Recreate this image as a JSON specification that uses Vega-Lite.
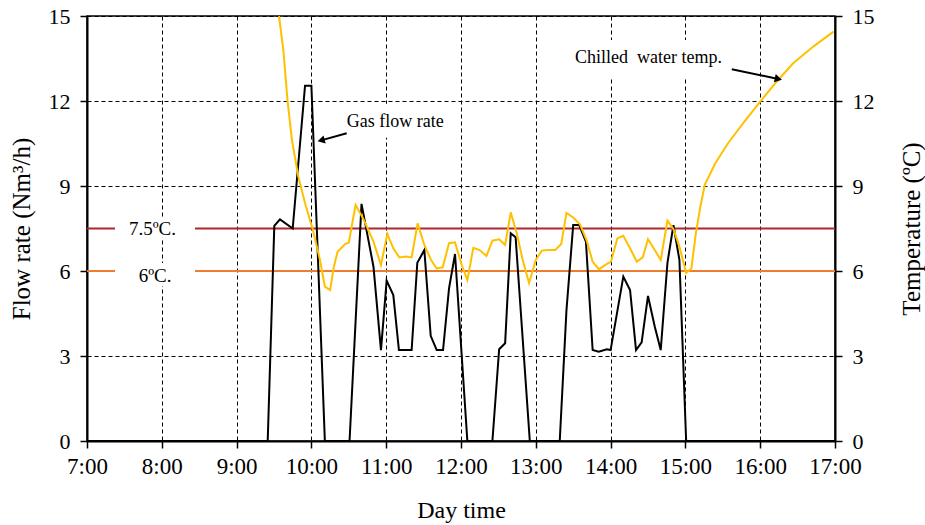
{
  "$schema": "https://vega.github.io/schema/vega-lite/v6.json",
  "width": 748,
  "height": 425,
  "autosize": {"type": "none"},
  "padding": {"left": 87, "top": 16, "right": 90, "bottom": 84},
  "background": "white",
  "config": {
    "view": {"stroke": "black", "strokeWidth": 1.5},
    "axis": {
      "labelFont": "Liberation Serif", "titleFont": "Liberation Serif",
      "labelColor": "black", "titleColor": "black",
      "labelFontSize": 22, "titleFontSize": 24, "titleFontWeight": "normal",
      "domainColor": "black", "domainWidth": 2,
      "tickColor": "black", "tickWidth": 1.5, "tickSize": 7,
      "gridColor": "black", "gridDash": [4, 3], "gridWidth": 1, "gridOpacity": 1,
      "labelOverlap": false, "labelFlush": false
    },
    "text": {"font": "Liberation Serif"}
  },
  "datasets": {
    "gas": [
      {"t": 7.0, "v": 0}, {"t": 9.416, "v": 0}, {"t": 9.504, "v": 7.59}, {"t": 9.58, "v": 7.82}, {"t": 9.75, "v": 7.5},
      {"t": 9.915, "v": 12.54}, {"t": 10.0, "v": 12.54}, {"t": 10.18, "v": 0}, {"t": 10.51, "v": 0}, {"t": 10.67, "v": 8.37},
      {"t": 10.83, "v": 6.15}, {"t": 10.93, "v": 3.21}, {"t": 11.006, "v": 5.66}, {"t": 11.095, "v": 5.15}, {"t": 11.17, "v": 3.21},
      {"t": 11.34, "v": 3.21}, {"t": 11.416, "v": 6.29}, {"t": 11.51, "v": 6.74}, {"t": 11.595, "v": 3.71}, {"t": 11.675, "v": 3.21},
      {"t": 11.76, "v": 3.21}, {"t": 11.84, "v": 5.39}, {"t": 11.92, "v": 6.6}, {"t": 12.085, "v": 0}, {"t": 12.42, "v": 0},
      {"t": 12.51, "v": 3.24}, {"t": 12.59, "v": 3.45}, {"t": 12.665, "v": 7.33}, {"t": 12.73, "v": 7.19}, {"t": 12.92, "v": 0},
      {"t": 13.32, "v": 0}, {"t": 13.41, "v": 4.62}, {"t": 13.5, "v": 7.62}, {"t": 13.58, "v": 7.62}, {"t": 13.67, "v": 7.04},
      {"t": 13.76, "v": 3.21}, {"t": 13.84, "v": 3.15}, {"t": 13.95, "v": 3.24}, {"t": 14.0, "v": 3.21}, {"t": 14.17, "v": 5.8},
      {"t": 14.26, "v": 5.33}, {"t": 14.34, "v": 3.21}, {"t": 14.415, "v": 3.48}, {"t": 14.5, "v": 5.12}, {"t": 14.59, "v": 4.04},
      {"t": 14.67, "v": 3.21}, {"t": 14.76, "v": 6.29}, {"t": 14.84, "v": 7.62}, {"t": 14.92, "v": 6.39}, {"t": 15.01, "v": 0},
      {"t": 17.0, "v": 0}
    ],
    "temp": [
      {"t": 9.567, "v": 15}, {"t": 9.625, "v": 13.8}, {"t": 9.68, "v": 12.04}, {"t": 9.74, "v": 10.62}, {"t": 9.825, "v": 9.33},
      {"t": 9.915, "v": 8.39}, {"t": 10.02, "v": 7.45}, {"t": 10.115, "v": 6.39}, {"t": 10.18, "v": 5.45}, {"t": 10.25, "v": 5.33},
      {"t": 10.3, "v": 6.15}, {"t": 10.35, "v": 6.68}, {"t": 10.45, "v": 6.95}, {"t": 10.5, "v": 7.0}, {"t": 10.59, "v": 8.33},
      {"t": 10.69, "v": 7.86}, {"t": 10.83, "v": 7.04}, {"t": 10.93, "v": 6.21}, {"t": 11.015, "v": 7.31}, {"t": 11.095, "v": 6.8},
      {"t": 11.175, "v": 6.48}, {"t": 11.265, "v": 6.51}, {"t": 11.34, "v": 6.48}, {"t": 11.42, "v": 7.68}, {"t": 11.51, "v": 6.92},
      {"t": 11.6, "v": 6.39}, {"t": 11.675, "v": 6.09}, {"t": 11.755, "v": 6.13}, {"t": 11.84, "v": 6.98}, {"t": 11.92, "v": 7.01},
      {"t": 12.01, "v": 6.21}, {"t": 12.085, "v": 5.68}, {"t": 12.165, "v": 6.82}, {"t": 12.25, "v": 6.74}, {"t": 12.34, "v": 6.53},
      {"t": 12.42, "v": 7.07}, {"t": 12.51, "v": 7.12}, {"t": 12.59, "v": 6.92}, {"t": 12.665, "v": 8.07}, {"t": 12.745, "v": 7.33},
      {"t": 12.825, "v": 6.39}, {"t": 12.91, "v": 5.57}, {"t": 13.0, "v": 6.39}, {"t": 13.08, "v": 6.72}, {"t": 13.17, "v": 6.74},
      {"t": 13.26, "v": 6.74}, {"t": 13.34, "v": 6.95}, {"t": 13.41, "v": 8.05}, {"t": 13.5, "v": 7.89}, {"t": 13.59, "v": 7.65},
      {"t": 13.68, "v": 7.07}, {"t": 13.76, "v": 6.33}, {"t": 13.845, "v": 6.06}, {"t": 13.92, "v": 6.2}, {"t": 14.005, "v": 6.33},
      {"t": 14.09, "v": 7.15}, {"t": 14.17, "v": 7.24}, {"t": 14.26, "v": 6.8}, {"t": 14.35, "v": 6.33}, {"t": 14.43, "v": 6.48},
      {"t": 14.5, "v": 7.12}, {"t": 14.59, "v": 6.74}, {"t": 14.67, "v": 6.39}, {"t": 14.76, "v": 7.78}, {"t": 14.84, "v": 7.48},
      {"t": 14.92, "v": 6.86}, {"t": 15.01, "v": 5.93}, {"t": 15.08, "v": 6.09}, {"t": 15.14, "v": 7.33}, {"t": 15.2, "v": 8.27},
      {"t": 15.26, "v": 9.05}, {"t": 15.4, "v": 9.8}, {"t": 15.57, "v": 10.51}, {"t": 15.77, "v": 11.21}, {"t": 16.0, "v": 11.98},
      {"t": 16.22, "v": 12.68}, {"t": 16.44, "v": 13.33}, {"t": 16.71, "v": 13.92}, {"t": 16.98, "v": 14.45}
    ],
    "limits": [
      {"name": "7.5", "t": 7, "t2": 17, "v": 7.5},
      {"name": "6", "t": 7, "t2": 17, "v": 6}
    ],
    "boxes": [
      {"t": 7.374, "t2": 8.444, "v": 7.17, "v2": 7.87},
      {"t": 7.374, "t2": 8.444, "v": 5.47, "v2": 6.28},
      {"t": 10.25, "t2": 11.96, "v": 10.7, "v2": 11.9},
      {"t": 13.39, "t2": 15.62, "v": 12.85, "v2": 14.15}
    ],
    "notes": [
      {"kind": "limit", "label": "7.5ºC.", "t": 7.875, "v": 7.48},
      {"kind": "limit", "label": "6ºC.", "t": 7.91, "v": 5.82},
      {"kind": "callout", "label": "Gas flow rate", "t": 10.473, "v": 11.09},
      {"kind": "callout", "label": "Chilled\u00a0 water temp.", "t": 13.524, "v": 13.34}
    ],
    "arrows": [
      {"name": "gas", "t": 10.472, "v": 10.86, "t2": 10.13, "v2": 10.61},
      {"name": "chilled", "t": 15.62, "v": 13.12, "t2": 16.243, "v2": 12.78}
    ]
  },
  "encoding": {
    "x": {
      "field": "t", "type": "quantitative",
      "scale": {"domain": [7, 17], "nice": false, "zero": false},
      "axis": {
        "values": [7, 8, 9, 10, 11, 12, 13, 14, 15, 16, 17],
        "labelExpr": "datum.value + ':00'",
        "grid": true, "tickSize": 7, "labelPadding": 7, "labelFontSize": 23,
        "title": "Day time", "titlePadding": 20
      }
    }
  },
  "resolve": {"scale": {"y": "shared"}, "axis": {"y": "independent"}},
  "layer": [
    {
      "data": {"name": "limits"},
      "mark": {"type": "rule", "strokeWidth": 2},
      "encoding": {
        "x2": {"field": "t2"},
        "y": {"field": "v", "type": "quantitative", "axis": null, "scale": {"domain": [0, 15], "nice": false}},
        "color": {"field": "name", "type": "nominal", "scale": {"domain": ["7.5", "6"], "range": ["#B0262D", "#ED7D31"]}, "legend": null}
      }
    },
    {
      "data": {"name": "boxes"},
      "mark": {"type": "rect", "fill": "white", "stroke": null},
      "encoding": {
        "x2": {"field": "t2"},
        "y": {"field": "v", "type": "quantitative", "axis": null},
        "y2": {"field": "v2"}
      }
    },
    {
      "data": {"name": "gas"},
      "mark": {"type": "line", "color": "black", "strokeWidth": 2},
      "encoding": {
        "y": {
          "field": "v", "type": "quantitative",
          "scale": {"domain": [0, 15], "nice": false},
          "axis": {"orient": "left", "values": [0, 3, 6, 9, 12, 15], "grid": true, "title": "Flow rate (Nm³/h)", "titleFontSize": 25, "labelPadding": 10, "titlePadding": 14}
        }
      }
    },
    {
      "data": {"name": "temp"},
      "mark": {"type": "line", "color": "#FFC000", "strokeWidth": 2},
      "encoding": {
        "y": {
          "field": "v", "type": "quantitative",
          "axis": {"orient": "right", "values": [0, 3, 6, 9, 12, 15], "grid": false, "title": "Temperature (ºC)", "titleFontSize": 25, "titleAngle": 270, "labelPadding": 10, "titlePadding": 50}
        }
      }
    },
    {
      "data": {"name": "notes"},
      "transform": [{"filter": "datum.kind == 'limit'"}],
      "mark": {"type": "text", "align": "center", "baseline": "middle", "fontSize": 19, "color": "black"},
      "encoding": {
        "y": {"field": "v", "type": "quantitative", "axis": null},
        "text": {"field": "label"}
      }
    },
    {
      "data": {"name": "notes"},
      "transform": [{"filter": "datum.kind == 'callout'"}],
      "mark": {"type": "text", "align": "left", "baseline": "alphabetic", "fontSize": 18, "color": "black"},
      "encoding": {
        "y": {"field": "v", "type": "quantitative", "axis": null},
        "text": {"field": "label"}
      }
    },
    {
      "data": {"name": "arrows"},
      "mark": {"type": "rule", "color": "black", "strokeWidth": 2},
      "encoding": {
        "x2": {"field": "t2"},
        "y": {"field": "v", "type": "quantitative", "axis": null},
        "y2": {"field": "v2"}
      }
    },
    {
      "data": {"name": "arrows"},
      "transform": [{"filter": "datum.name == 'gas'"}],
      "mark": {"type": "point", "shape": "triangle-up", "filled": true, "color": "black", "size": 70, "opacity": 1, "angle": 255},
      "encoding": {
        "x": {"field": "t2", "type": "quantitative"},
        "y": {"field": "v2", "type": "quantitative", "axis": null}
      }
    },
    {
      "data": {"name": "arrows"},
      "transform": [{"filter": "datum.name == 'chilled'"}],
      "mark": {"type": "point", "shape": "triangle-up", "filled": true, "color": "black", "size": 70, "opacity": 1, "angle": 102},
      "encoding": {
        "x": {"field": "t2", "type": "quantitative"},
        "y": {"field": "v2", "type": "quantitative", "axis": null}
      }
    }
  ]
}
